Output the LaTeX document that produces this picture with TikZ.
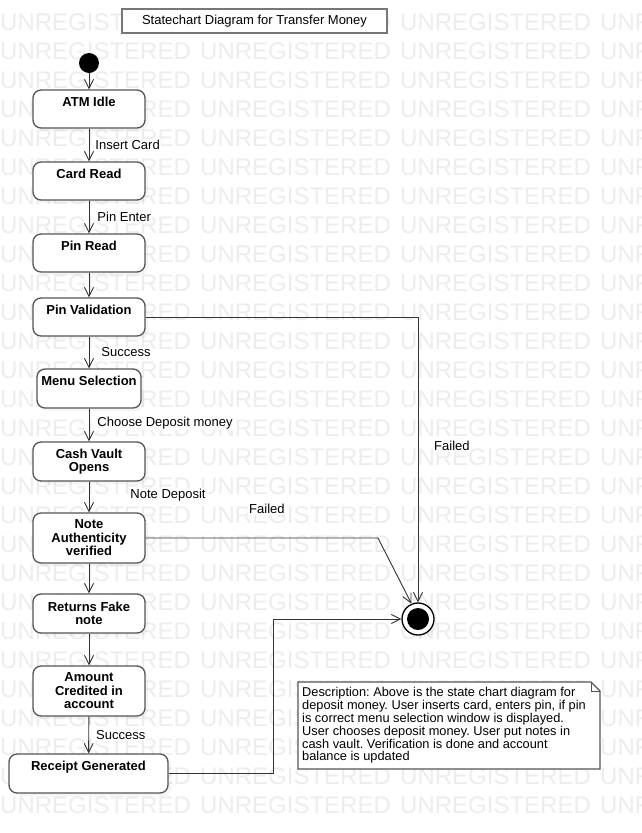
\documentclass[tikz,border=0pt]{standalone}
\usepackage{fontspec}
\setmainfont{Liberation Sans}
\usetikzlibrary{arrows.meta, shadows}
\definecolor{wmgray}{HTML}{EDEDED}
\definecolor{boxgray}{HTML}{555555}
\definecolor{linkgray}{HTML}{333333}
\tikzset{
    wmark/.style={anchor=west, inner sep=0, text=wmgray, font=\fontsize{24}{24}\selectfont},
    stbox/.style={draw=boxgray, line width=1.3, rounded corners=8, fill=white, align=center,
        minimum width=112, inner ysep=4, font=\bfseries\fontsize{13}{13.5}\selectfont,
        drop shadow={shadow xshift=3pt, shadow yshift=-3pt, opacity=0.08}},
    stone/.style={stbox, text height=12.65, text depth=17.35},
    link/.style={draw=linkgray, line width=0.9, -{Straight Barb[length=9pt, width=9pt]}},
    elabel/.style={fill=white, inner sep=1, font=\fontsize{13}{14}\selectfont},
}
\begin{document}
\frenchspacing
\begin{tikzpicture}[x=1pt, y=-1pt]
    \useasboundingbox (0,0) rectangle (641,833);
    \fill[white] (0,0) rectangle (641,833);
    \foreach \r in {0,...,27} {
        \foreach \c in {0,...,3} {
            \node[wmark] (wm-\r-\c) at (200*\c, 22+29*\r) {UNREGISTERED};
        }
    }
    \node[draw=boxgray!80, line width=1.5, fill=white, minimum width=265, minimum height=24,
        font=\fontsize{13}{14}\selectfont] (title) at (254.5,21) {Statechart Diagram for Transfer Money};
    \node[circle, fill=black, minimum size=20, inner sep=0] (init) at (89,63) {};
    \node[stone] (atm) at (89,109) {ATM Idle};
    \node[stone] (card) at (89,181) {Card Read};
    \node[stone] (pinread) at (89,253) {Pin Read};
    \node[stone] (pinval) at (89,317) {Pin Validation};
    \node[stone, minimum width=104, text depth=18.35] (menu) at (89,388.5) {Menu Selection};
    \node[stbox, minimum height=39] (vault) at (89,461.5) {Cash Vault\\Opens};
    \node[stbox, minimum height=50] (auth) at (89,538) {Note\\Authenticity\\verified};
    \node[stbox, minimum height=39] (fake) at (89,613.5) {Returns Fake\\note};
    \node[stbox, minimum height=50] (amount) at (89,691) {Amount\\Credited in\\account};
    \node[stone, minimum width=159, text depth=18.35] (receipt) at (88.5,773.5) {Receipt Generated};
    \node[circle, draw=black, line width=1.3, fill=white, minimum size=32, inner sep=0,
        drop shadow={shadow xshift=3pt, shadow yshift=-3pt, opacity=0.08},
        path picture={\fill[black] (path picture bounding box.center) circle (11pt);}] (final) at (418,619) {};
    \coordinate (authbend) at (378,538);
    \coordinate (recbend) at (273.5,773.5);
    \draw[link] (init) -- (atm);
    \draw[link] (atm) -- node[elabel, anchor=west, xshift=5] (lblcard) {Insert Card} (card);
    \draw[link] (card) -- node[elabel, anchor=west, xshift=7] (lblpin) {Pin Enter} (pinread);
    \draw[link] (pinread) -- (pinval);
    \draw[link] (pinval) -- node[elabel, anchor=west, xshift=11] (lblok) {Success} (menu);
    \draw[link] (menu) -- node[elabel, anchor=west, xshift=7, yshift=2] (lblchoose) {Choose Deposit money} (vault);
    \draw[link] (vault) -- node[elabel, anchor=west, xshift=40, yshift=2] (lbldeposit) {Note Deposit} (auth);
    \draw[link] (auth) -- (fake);
    \draw[link] (fake) -- (amount);
    \draw[link] (amount) -- node[elabel, anchor=west, xshift=6] (lbldone) {Success} (receipt);
    \draw[link] (pinval.east) -| (final.north);
    \draw[link] (auth.east) -- (authbend) -- (final.113);
    \draw[link] (receipt.east) -- (recbend) |- (final.west);
    \node[elabel, anchor=west] (failpin) at (433,446) {Failed};
    \node[elabel, anchor=west] (failauth) at (248,509) {Failed};
    \filldraw[draw=boxgray, fill=white, line width=1.3] (298,682) -- (591,682) -- (600,691) -- (600,769) -- (298,769) -- cycle;
    \draw[boxgray, line width=1] (591,682) -- (591,691) -- (600,691);
    \node[anchor=north west, inner xsep=4, inner ysep=5.5, align=left,
        font=\fontsize{12.8}{12.8}\selectfont] (desc) at (298,682)
        {Description: Above is the state chart diagram for\\
         deposit money. User inserts card, enters pin, if pin\\
         is correct menu selection window is displayed.\\
         User chooses deposit money. User put notes in\\
         cash vault. Verification is done and account\\
         balance is updated};
\end{tikzpicture}
\end{document}
